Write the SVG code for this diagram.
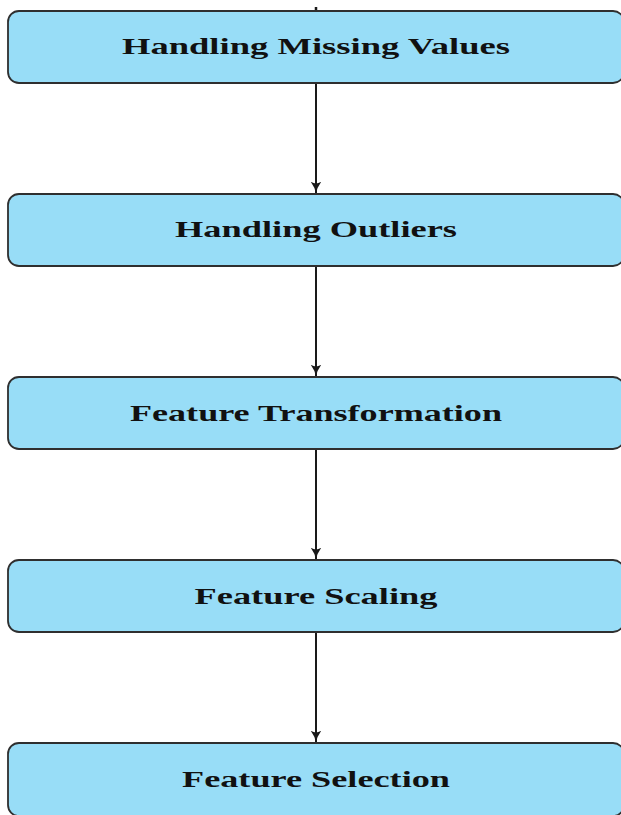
<svg xmlns="http://www.w3.org/2000/svg" width="621" height="815" viewBox="0 0 621 815">
  <defs>
    <style>
      .box { fill: #98ddf7; stroke: #2f2f2f; stroke-width: 1.8; }
      .label { font-family: "Liberation Serif", "DejaVu Serif", serif; font-weight: bold; font-size: 24px; fill: #111111; text-anchor: middle; }
      .edge { stroke: #1a1a1a; stroke-width: 2; fill: none; marker-end: url(#arrow); }
    </style>
    <marker id="arrow" viewBox="0 0 10 10" refX="9.5" refY="5" markerWidth="12" markerHeight="12" markerUnits="userSpaceOnUse" orient="auto">
      <path d="M0,0.5 Q4.5,4 10,5 Q4.5,6 0,9.5 Q3,5 0,0.5 Z" fill="#1a1a1a"/>
    </marker>
  </defs>
  <rect width="621" height="815" fill="#ffffff"/>

  <g id="connectors">
    <line x1="316" y1="7" x2="316" y2="10" stroke="#1a1a1a" stroke-width="2.5"/>
    <line class="edge" x1="316" y1="83" x2="316" y2="193"/>
    <line class="edge" x1="316" y1="266" x2="316" y2="376"/>
    <line class="edge" x1="316" y1="449" x2="316" y2="559"/>
    <line class="edge" x1="316" y1="632" x2="316" y2="742"/>
  </g>

  <g id="handling-missing-values">
    <rect class="box" x="8" y="11" width="616" height="72" rx="11"/>
    <text class="label" x="316" y="53.5" textLength="388" lengthAdjust="spacingAndGlyphs">Handling Missing Values</text>
  </g>

  <g id="handling-outliers">
    <rect class="box" x="8" y="194" width="616" height="72" rx="11"/>
    <text class="label" x="316" y="237" textLength="282" lengthAdjust="spacingAndGlyphs">Handling Outliers</text>
  </g>

  <g id="feature-transformation">
    <rect class="box" x="8" y="377" width="616" height="72" rx="11"/>
    <text class="label" x="316" y="421" textLength="372" lengthAdjust="spacingAndGlyphs">Feature Transformation</text>
  </g>

  <g id="feature-scaling">
    <rect class="box" x="8" y="560" width="616" height="72" rx="11"/>
    <text class="label" x="316" y="603.5" textLength="243" lengthAdjust="spacingAndGlyphs">Feature Scaling</text>
  </g>

  <g id="feature-selection">
    <rect class="box" x="8" y="743" width="616" height="73" rx="11"/>
    <text class="label" x="316" y="787" textLength="268" lengthAdjust="spacingAndGlyphs">Feature Selection</text>
  </g>
</svg>
